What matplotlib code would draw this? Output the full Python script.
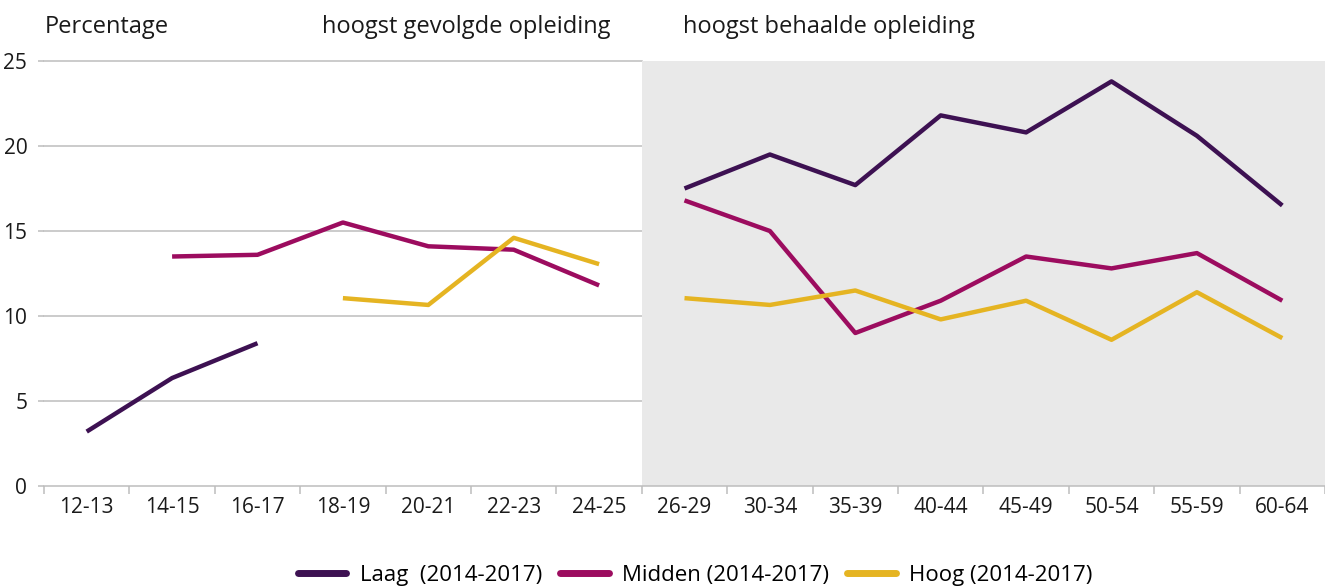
import numpy as np
import matplotlib
matplotlib.use("Agg")
import matplotlib.pyplot as plt
from matplotlib import font_manager

names = {f.name for f in font_manager.fontManager.ttflist}
fam = [f for f in ["Liberation Sans Narrow", "Open Sans", "DejaVu Sans"] if f in names]
plt.rcParams['font.family'] = fam

categories = ["12-13", "14-15", "16-17", "18-19", "20-21", "22-23", "24-25",
              "26-29", "30-34", "35-39", "40-44", "45-49", "50-54", "55-59", "60-64"]
nan = np.nan
laag = [3.2, 6.35, 8.4, nan, nan, nan, nan, 17.5, 19.5, 17.7, 21.8, 20.8, 23.8, 20.6, 16.5]
midden = [nan, 13.5, 13.6, 15.5, 14.1, 13.9, 11.8, 16.8, 15.0, 9.0, 10.9, 13.5, 12.8, 13.7, 10.9]
hoog = [nan, nan, nan, 11.05, 10.65, 14.6, 13.05, 11.05, 10.65, 11.5, 9.8, 10.9, 8.6, 11.4, 8.7]
series = [("Laag  (2014-2017)", laag, "#3d1152"),
          ("Midden (2014-2017)", midden, "#9c0c5f"),
          ("Hoog (2014-2017)", hoog, "#e5b422")]
split = 7  # first index of the "behaalde" block
yticks = [0, 5, 10, 15, 20, 25]

fig = plt.figure(figsize=(13.25, 5.87), dpi=100)
ax = fig.add_axes([44/1325, 1-486/587, 1-44/1325, (486-61)/587])
n = len(categories)
x = np.arange(n)
ax.set_xlim(-0.5, n - 0.5)
ax.set_ylim(0, 25)

# gridlines in white region
for yv in yticks[1:]:
    ax.plot([-0.5, split - 0.5], [yv, yv], color="#bdbdbd", lw=1.1, zorder=1, clip_on=False)
ax.axvspan(split - 0.5, n - 0.5, color="#e9e9e9", zorder=2, lw=0)

handles = []
for label, vals, col in series:
    v = np.array(vals, dtype=float)
    h, = ax.plot(x[:split], v[:split], color=col, lw=3.2, zorder=3, solid_capstyle="butt")
    ax.plot(x[split:], v[split:], color=col, lw=3.2, zorder=3, solid_capstyle="butt")
    handles.append((h, label))

for s in ["top", "right", "left"]:
    ax.spines[s].set_visible(False)
ax.spines["bottom"].set_color("#bdbdbd")
ax.spines["bottom"].set_linewidth(1.1)
ax.spines["bottom"].set_zorder(4)

ax.set_yticks(yticks)
ax.set_yticklabels([str(t) for t in yticks], fontsize=15, color="#1a1a1a")
ax.tick_params(axis="y", length=4, color="#bdbdbd", width=1.1, pad=8)

ax.set_xticks(x)
ax.set_xticklabels(categories, fontsize=15, color="#1a1a1a")
ax.set_xticks(np.arange(-0.5, n, 1.0), minor=True)
ax.tick_params(axis="x", which="major", length=0, pad=8)
ax.tick_params(axis="x", which="minor", length=6, color="#bdbdbd", width=1.1)

fig.text(45/1325, 1-27/587, "Percentage", fontsize=17, ha="left", va="center", color="#1a1a1a")
fig.text(322/1325, 1-27/587, "hoogst gevolgde opleiding", fontsize=17, ha="left", va="center", color="#1a1a1a")
fig.text(683/1325, 1-27/587, "hoogst behaalde opleiding", fontsize=17, ha="left", va="center", color="#1a1a1a")

leg = fig.legend([h for h, _ in handles], [l for _, l in handles], loc="center",
                 bbox_to_anchor=(695/1325, 1-575/587), ncol=3, frameon=False,
                 fontsize=16, handlelength=2.2, handletextpad=0.6, columnspacing=0.8)
for lh in leg.get_lines():
    lh.set_linewidth(5)
    lh.set_solid_capstyle("round")

fig.savefig("out.png", dpi=100)
